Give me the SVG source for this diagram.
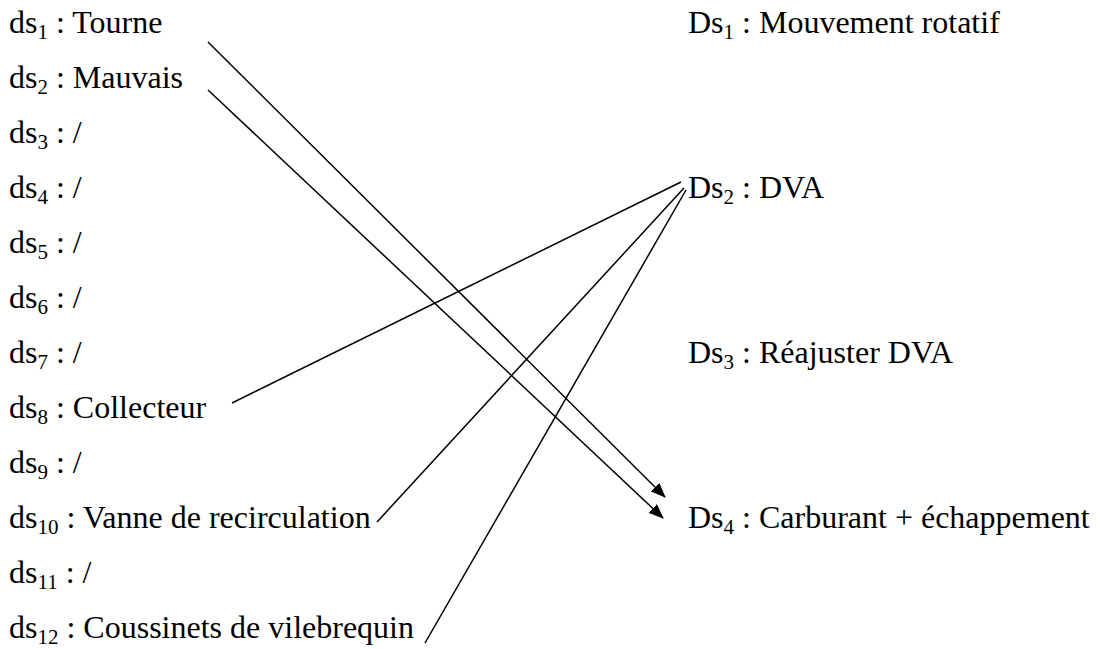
<svg xmlns="http://www.w3.org/2000/svg" width="1098" height="649" viewBox="0 0 1098 649">
<style>
text{font-family:"Liberation Serif","Times New Roman",serif;font-size:32px;fill:#000}
.s{font-size:21px}
.c{stroke:#000;stroke-width:1.5;fill:none}
</style>
<defs>
<marker id="ah" markerWidth="15" markerHeight="12" refX="14" refY="6" orient="auto" markerUnits="userSpaceOnUse">
<path d="M0,0 L15,6 L0,12 Z" fill="#000"/>
</marker>
</defs>
<rect width="1098" height="649" fill="#fff"/>
<g id="ds1"><text x="9" y="33">ds<tspan class="s" dy="6">1</tspan><tspan dy="-6"> : Tourne</tspan></text></g>
<g id="ds2"><text x="9" y="88">ds<tspan class="s" dy="6">2</tspan><tspan dy="-6"> : Mauvais</tspan></text></g>
<g id="ds3"><text x="9" y="143">ds<tspan class="s" dy="6">3</tspan><tspan dy="-6"> : /</tspan></text></g>
<g id="ds4"><text x="9" y="198">ds<tspan class="s" dy="6">4</tspan><tspan dy="-6"> : /</tspan></text></g>
<g id="ds5"><text x="9" y="253">ds<tspan class="s" dy="6">5</tspan><tspan dy="-6"> : /</tspan></text></g>
<g id="ds6"><text x="9" y="308">ds<tspan class="s" dy="6">6</tspan><tspan dy="-6"> : /</tspan></text></g>
<g id="ds7"><text x="9" y="363">ds<tspan class="s" dy="6">7</tspan><tspan dy="-6"> : /</tspan></text></g>
<g id="ds8"><text x="9" y="418">ds<tspan class="s" dy="6">8</tspan><tspan dy="-6"> : Collecteur</tspan></text></g>
<g id="ds9"><text x="9" y="473">ds<tspan class="s" dy="6">9</tspan><tspan dy="-6"> : /</tspan></text></g>
<g id="ds10"><text x="9" y="528">ds<tspan class="s" dy="6">10</tspan><tspan dy="-6"> : Vanne de recirculation</tspan></text></g>
<g id="ds11"><text x="9" y="583">ds<tspan class="s" dy="6">11</tspan><tspan dy="-6"> : /</tspan></text></g>
<g id="ds12"><text x="9" y="638">ds<tspan class="s" dy="6">12</tspan><tspan dy="-6"> : Coussinets de vilebrequin</tspan></text></g>
<g id="Ds1"><text x="688" y="33">Ds<tspan class="s" dy="6">1</tspan><tspan dy="-6"> : Mouvement rotatif</tspan></text></g>
<g id="Ds2"><text x="688" y="198">Ds<tspan class="s" dy="6">2</tspan><tspan dy="-6"> : DVA</tspan></text></g>
<g id="Ds3"><text x="688" y="363">Ds<tspan class="s" dy="6">3</tspan><tspan dy="-6"> : Réajuster DVA</tspan></text></g>
<g id="Ds4"><text x="688" y="528">Ds<tspan class="s" dy="6">4</tspan><tspan dy="-6"> : Carburant + échappement</tspan></text></g>
<g id="connectors">
<line class="c" x1="208" y1="42" x2="665" y2="497" marker-end="url(#ah)"/>
<line class="c" x1="208" y1="90" x2="663" y2="518" marker-end="url(#ah)"/>
<line class="c" x1="681" y1="182" x2="232" y2="403"/>
<line class="c" x1="684" y1="188" x2="377" y2="522"/>
<line class="c" x1="686" y1="190" x2="425" y2="643"/>
</g>
</svg>
